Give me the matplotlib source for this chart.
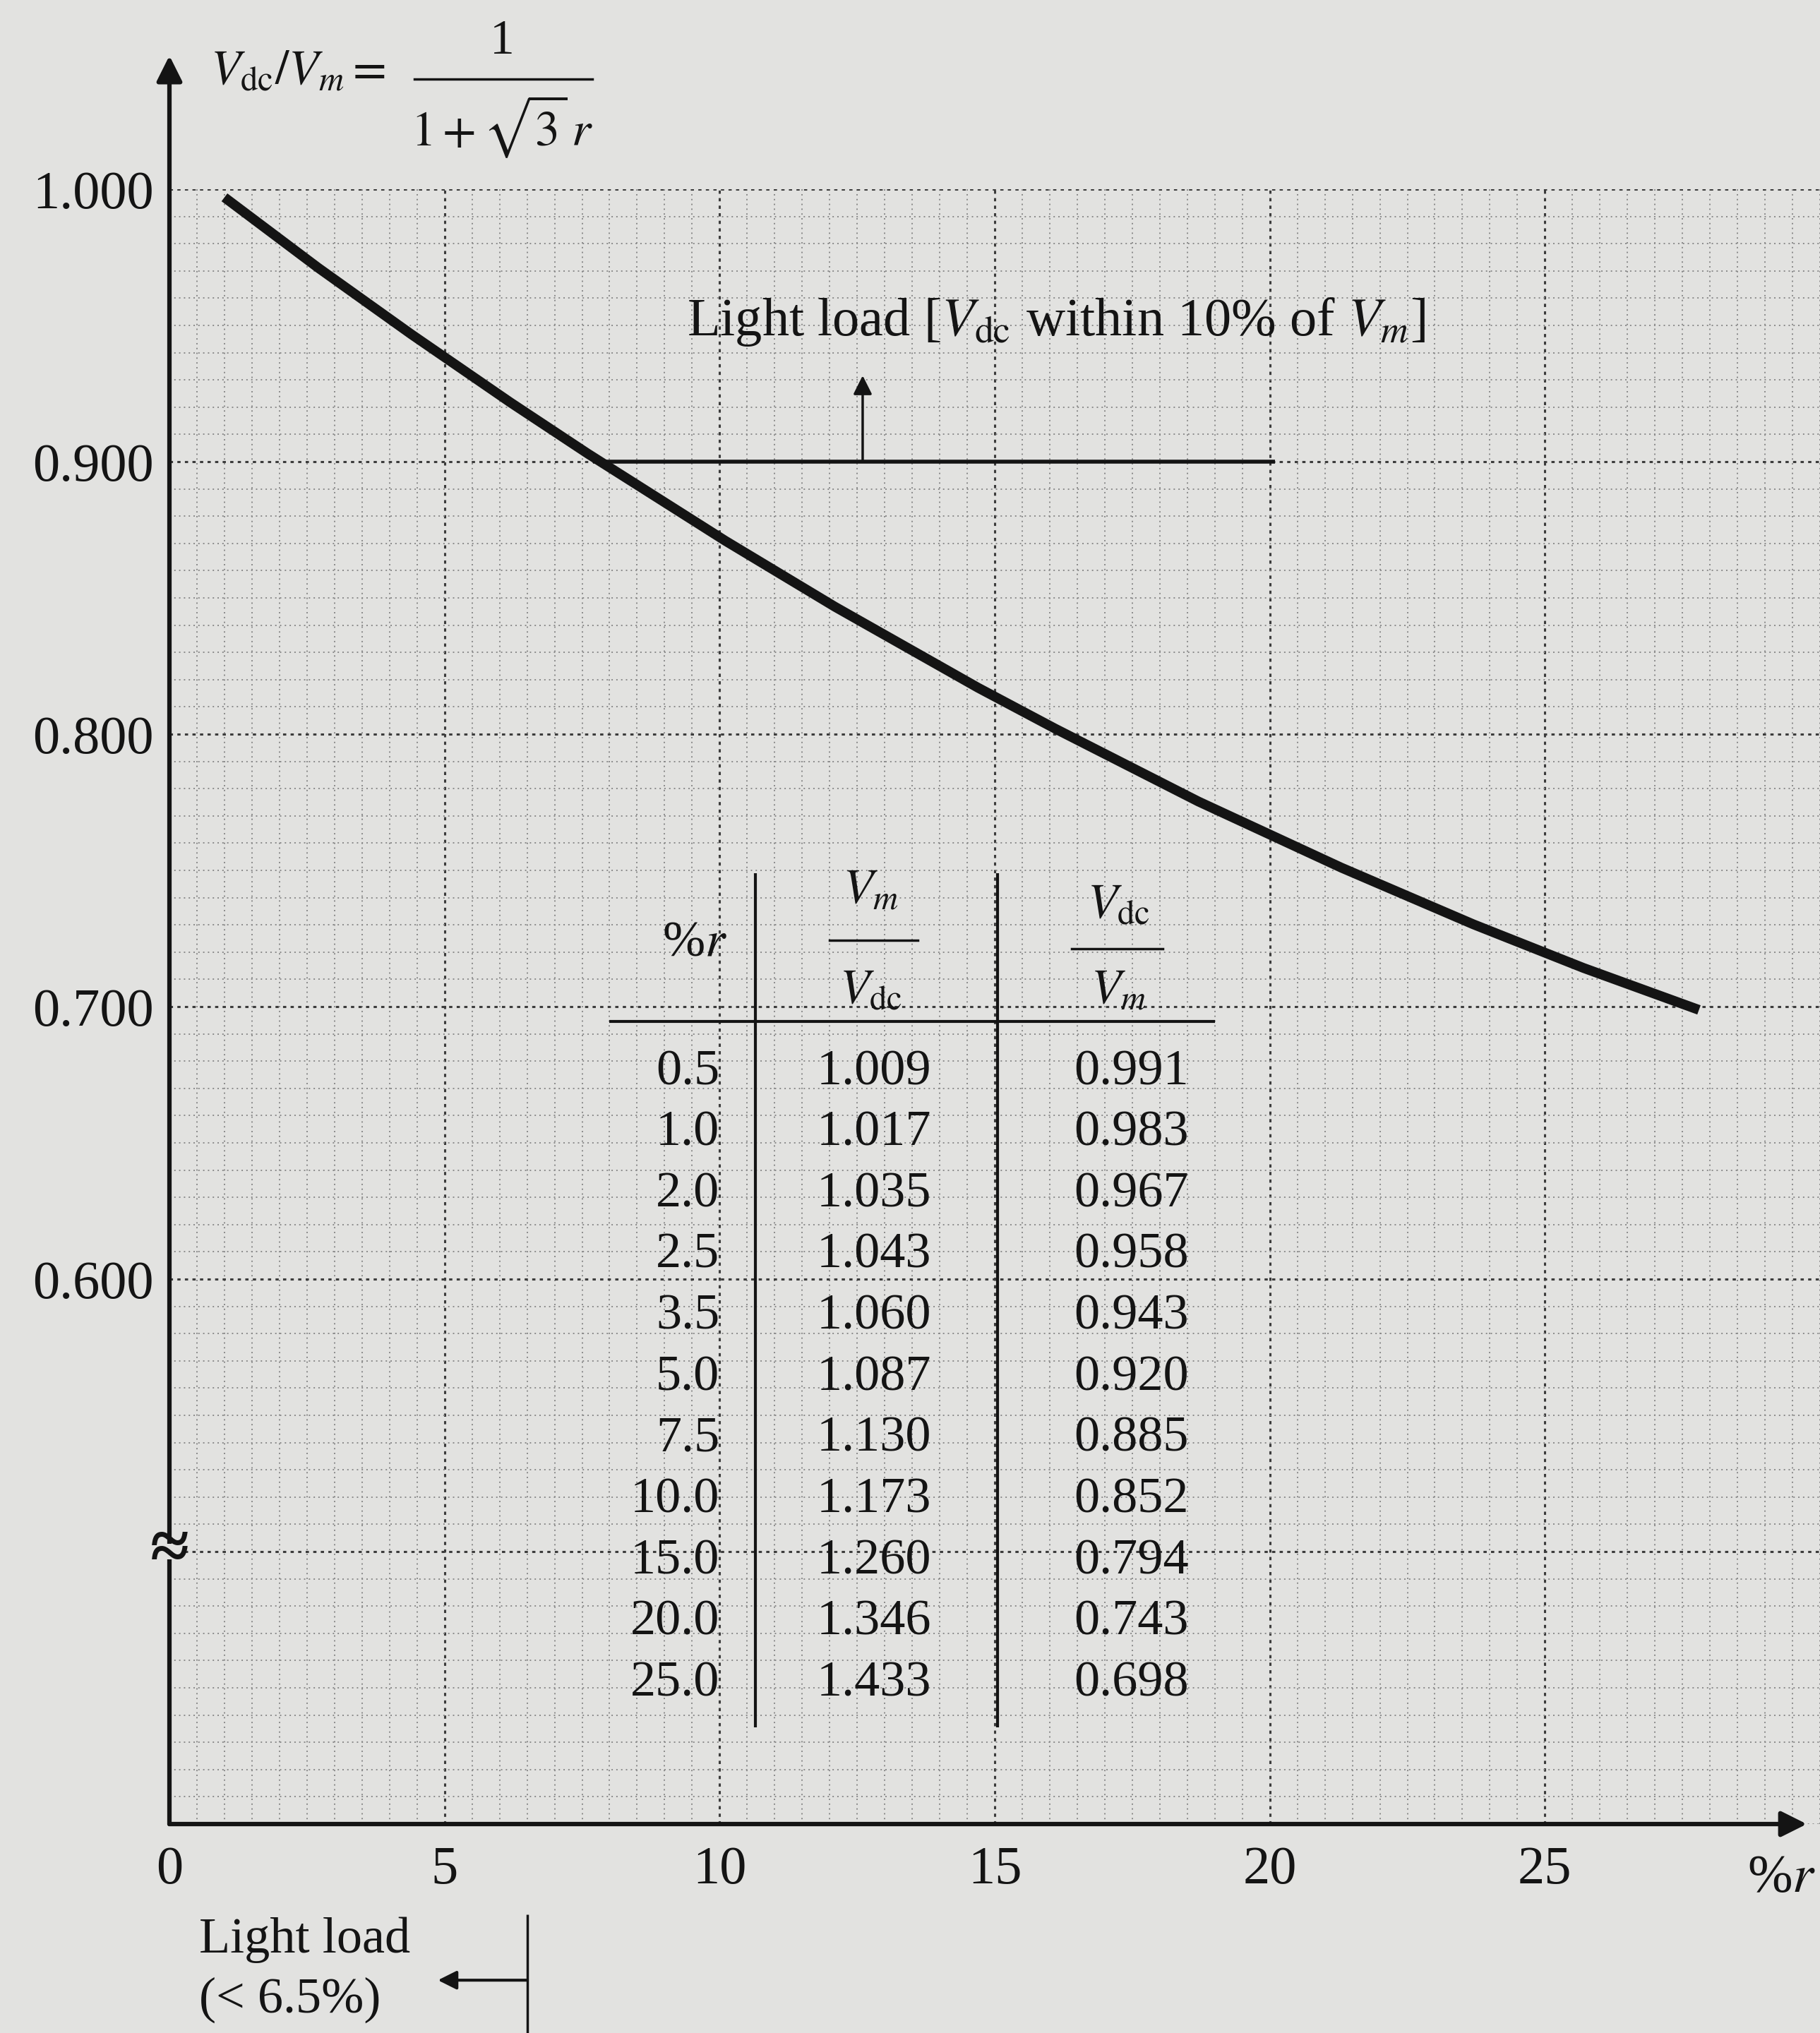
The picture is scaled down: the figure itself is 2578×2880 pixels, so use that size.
import numpy as np
import matplotlib
matplotlib.use("Agg")
import matplotlib.pyplot as plt
from matplotlib.patches import Rectangle

plt.rcParams['font.family'] = ['Liberation Serif', 'DejaVu Serif']
plt.rcParams['mathtext.fontset'] = 'stix'

# curve (% ripple r, Vdc/Vm)
curve_r = [1.0, 2.7, 4.4, 6.2, 7.6, 10.1, 12.1, 14.7, 16.1, 18.7, 21.3, 23.7, 25.7, 27.8]
curve_v = [0.997, 0.9712, 0.9467, 0.9217, 0.9030, 0.8710, 0.8467, 0.8170, 0.8020, 0.7753,
           0.7510, 0.7302, 0.7142, 0.6988]

# table printed inside the chart
pct_r = [0.5, 1.0, 2.0, 2.5, 3.5, 5.0, 7.5, 10.0, 15.0, 20.0, 25.0]
vm_over_vdc = [1.009, 1.017, 1.035, 1.043, 1.060, 1.087, 1.130, 1.173, 1.260, 1.346, 1.433]
vdc_over_vm = [0.991, 0.983, 0.967, 0.958, 0.943, 0.920, 0.885, 0.852, 0.794, 0.743, 0.698]

x_ticks = [0, 5, 10, 15, 20, 25]
y_ticks = [0.5, 0.6, 0.7, 0.8, 0.9, 1.0]
y_ticklabels = ['', '0.600', '0.700', '0.800', '0.900', '1.000']

light_load_level = 0.900
light_load_r = 6.5

bg = '#e2e2e0'
ink = '#141414'

W, H = 2578, 2880
fig = plt.figure(figsize=(W / 100, H / 100), dpi=100, facecolor=bg)
ax = fig.add_axes([240 / W, (H - 2584) / H, 2338 / W, (2584 - 268) / H])
ax.set_facecolor(bg)
ax.set_xlim(0, 29.97)
ax.set_ylim(0.4, 1.0)
for s in ax.spines.values():
    s.set_visible(False)

# graph-paper grid
ax.set_xticks(x_ticks)
ax.set_xticklabels([str(t) for t in x_ticks])
ax.set_yticks(y_ticks)
ax.set_yticklabels(y_ticklabels)
ax.set_xticks(np.arange(0, 30.01, 0.5), minor=True)
ax.set_yticks(np.arange(0.4, 1.0001, 0.01), minor=True)
ax.tick_params(which='both', length=0)
ax.tick_params(axis='x', labelsize=55, pad=22, colors=ink)
ax.tick_params(axis='y', labelsize=55, pad=16, colors=ink)
ax.grid(which='minor', color='#8a8a8a', linestyle=(0, (1, 2.5)), linewidth=1.4)
ax.grid(which='major', color='#3c3c3c', linestyle=(0, (1.5, 2)), linewidth=2.2)
ax.set_axisbelow(True)

# axes with arrows
arrow_kw = dict(arrowstyle='-|>', color=ink, lw=4.5, mutation_scale=55, shrinkA=0, shrinkB=0)
ax.annotate('', xy=(0, 1.049), xytext=(0, 0.4), arrowprops=arrow_kw, annotation_clip=False)
ax.annotate('', xy=(29.76, 0.4), xytext=(0, 0.4), arrowprops=arrow_kw, annotation_clip=False)
ax.text(29.93, 0.3800, '%$r$', fontsize=55, color=ink, ha='right', va='center', clip_on=False)

# axis break at 0.5
ax.add_patch(Rectangle((-0.3, 0.4972), 0.6, 0.0056, facecolor=bg, edgecolor='none',
                       zorder=6, clip_on=False))
ax.text(0, 0.5, '\u2248', fontsize=72, fontweight='bold', color=ink, ha='center', va='center',
        zorder=7, clip_on=False)

# main curve
ax.plot(curve_r, curve_v, color=ink, lw=10, solid_capstyle='butt', solid_joinstyle='round',
        zorder=5)

# light load marker
ax.hlines(light_load_level, 7.7, 20.1, color=ink, lw=4, zorder=5)
ax.annotate('', xy=(12.6, 0.9316), xytext=(12.6, light_load_level),
            arrowprops=dict(arrowstyle='-|>', color=ink, lw=2.5, mutation_scale=40,
                            shrinkA=0, shrinkB=0))
ax.text(9.4, 0.9465, r'Light load [$V_{\mathrm{dc}}$ within 10% of $V_m$]',
        fontsize=55, color=ink, ha='left', va='baseline')

# formula at top
ax.text(0.75, 1.043, r'$V_{\mathrm{dc}}/V_m =$', fontsize=50, color=ink,
        ha='left', va='center', clip_on=False)
ax.text(6.05, 1.0541, '1', fontsize=50, color=ink, ha='center', va='center', clip_on=False)
ax.plot([4.45, 7.68], [1.0404, 1.0404], color=ink, lw=2.5, clip_on=False)
ax.text(6.05, 1.023, r'$1+\sqrt{3}\,r$', fontsize=50, color=ink, ha='center', va='center',
        clip_on=False)

# table
ax.vlines([10.65, 15.05], 0.4356, 0.749, color=ink, lw=3, zorder=5)
ax.hlines(0.6946, 8.0, 19.0, color=ink, lw=3, zorder=5)
ax.text(9.55, 0.7232, '%$r$', fontsize=52, color=ink, ha='center', va='center')
ax.text(12.75, 0.7425, r'$V_m$', fontsize=50, color=ink, ha='center', va='center')
ax.plot([12.0, 13.6], [0.7243, 0.7243], color=ink, lw=2.5)
ax.text(12.75, 0.7055, r'$V_{\mathrm{dc}}$', fontsize=50, color=ink, ha='center', va='center')
ax.text(17.25, 0.7370, r'$V_{\mathrm{dc}}$', fontsize=50, color=ink, ha='center', va='center')
ax.plot([16.4, 18.05], [0.7212, 0.7212], color=ink, lw=2.5)
ax.text(17.25, 0.7055, r'$V_m$', fontsize=50, color=ink, ha='center', va='center')

row_top, row_step = 0.676, 0.02244
for i, (r, a, b) in enumerate(zip(pct_r, vm_over_vdc, vdc_over_vm)):
    y = row_top - i * row_step
    ax.text(10.0, y, f'{r:.1f}', fontsize=52, color=ink, ha='right', va='center')
    ax.text(12.8, y, f'{a:.3f}', fontsize=52, color=ink, ha='center', va='center')
    ax.text(17.48, y, f'{b:.3f}', fontsize=52, color=ink, ha='center', va='center')

# light load region below the axis
ax.vlines(light_load_r, 0.3225, 0.3668, color=ink, lw=2.5, clip_on=False)
ax.annotate('', xy=(4.88, 0.3427), xytext=(light_load_r, 0.3427),
            arrowprops=dict(arrowstyle='-|>', color=ink, lw=3, mutation_scale=40,
                            shrinkA=0, shrinkB=0), annotation_clip=False)
ax.text(0.54, 0.3575, 'Light load', fontsize=52, color=ink, ha='left', va='center', clip_on=False)
ax.text(0.54, 0.3355, '(< 6.5%)', fontsize=52, color=ink, ha='left', va='center', clip_on=False)

fig.savefig('out.png', dpi=100, facecolor=bg)
